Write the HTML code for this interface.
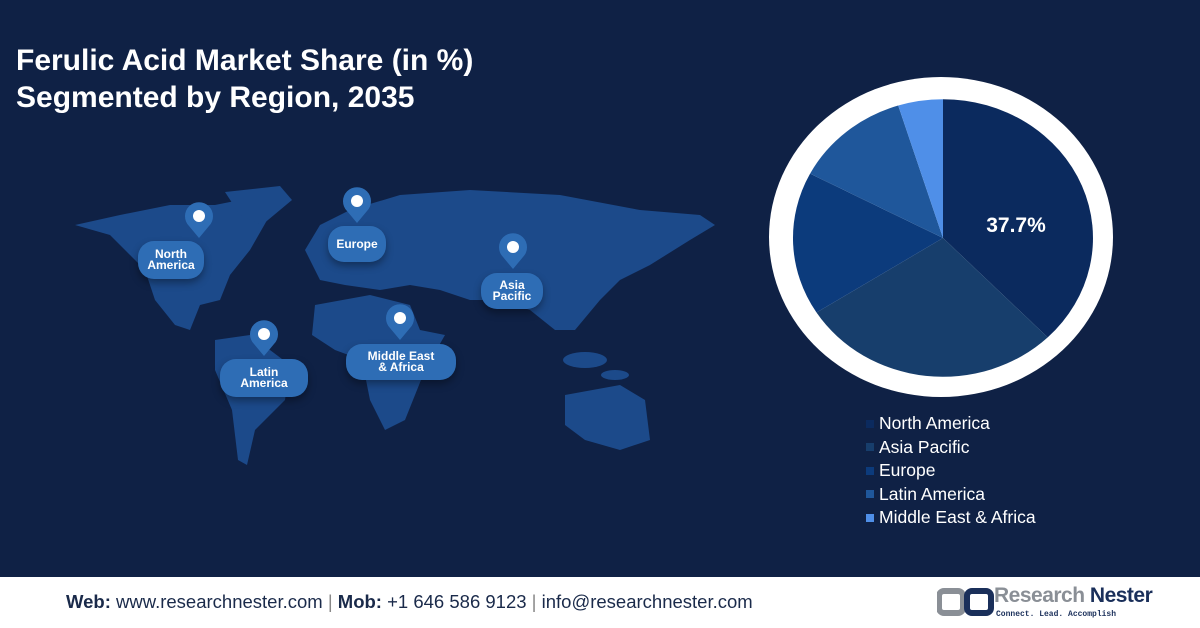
<!DOCTYPE html>
<html><head><style>
body{margin:0;width:1200px;height:628px;overflow:hidden;background:#0f2145;font-family:"Liberation Sans",sans-serif;position:relative}
.t{position:absolute;left:16px;color:#fff;font-weight:bold;font-size:30px;line-height:37px;top:42px}
.pill{position:absolute;background:#2e6db5;color:#fff;font-weight:bold;font-size:12px;line-height:11px;text-align:center;border-radius:16px;display:flex;align-items:center;justify-content:center;box-shadow:0 4px 8px rgba(0,0,0,.35)}
.leg{position:absolute;left:866px;top:412px;color:#fff;font-size:17.5px;line-height:23.5px}
.leg div{display:flex;align-items:center}
.leg span{display:inline-block;width:8px;height:8px;margin-right:5px}
.foot{position:absolute;left:0;top:577px;width:1200px;height:51px;background:#fff}
</style></head><body>
<div class="t">Ferulic Acid Market Share (in %)<br>Segmented by Region, 2035</div>
<svg width="1200" height="628" style="position:absolute;left:0;top:0">
<g fill="#1c4a8a">
<polygon points="75,225 120,215 170,205 215,205 250,198 270,215 250,250 230,275 220,300 200,305 190,330 175,325 155,300 145,270 110,235"/>
<polygon points="225,192 280,186 292,200 262,225 240,215"/>
<polygon points="215,340 250,335 290,365 285,400 255,430 247,465 238,460 232,410 215,370"/>
<polygon points="305,250 320,225 350,210 400,195 470,190 560,195 640,210 700,215 715,225 690,240 650,265 620,280 600,300 575,330 555,330 530,310 500,300 470,300 440,290 410,285 380,290 345,285 320,280"/>
<polygon points="315,305 370,295 410,305 420,330 445,335 425,370 405,420 385,430 370,400 362,360 335,350 312,335"/>
<polygon points="565,395 620,385 645,400 650,440 620,450 585,440 565,425"/>
<ellipse cx="585" cy="360" rx="22" ry="8"/><ellipse cx="615" cy="375" rx="14" ry="5"/>
</g>
<g fill="#2e6db5">
<path d="M199,238 l-10,-12 a14,14 0 1 1 20,0z"/>
<path d="M357,223 l-10,-12 a14,14 0 1 1 20,0z"/>
<path d="M513,269 l-10,-12 a14,14 0 1 1 20,0z"/>
<path d="M264,356 l-10,-12 a14,14 0 1 1 20,0z"/>
<path d="M400,340 l-10,-12 a14,14 0 1 1 20,0z"/>
</g>
<g fill="#fff"><circle cx="199" cy="216" r="6"/><circle cx="357" cy="201" r="6"/><circle cx="513" cy="247" r="6"/><circle cx="264" cy="334" r="6"/><circle cx="400" cy="318" r="6"/></g>
<ellipse cx="941" cy="237" rx="172" ry="160" fill="#fff"/>
<g transform="translate(943,238) scale(1,0.925)">
<path d="M0,0 L0,-150 A150,150 0 0 1 104.7,107.4Z" fill="#0b2a5e"/>
<path d="M0,0 L104.7,107.4 A150,150 0 0 1 -126.5,80.6Z" fill="#173e6c"/>
<path d="M0,0 L-126.5,80.6 A150,150 0 0 1 -132.9,-69.6Z" fill="#0c3b7c"/>
<path d="M0,0 L-132.9,-69.6 A150,150 0 0 1 -44.8,-143.2Z" fill="#1f579b"/>
<path d="M0,0 L-44.8,-143.2 A150,150 0 0 1 0,-150Z" fill="#4f8fe8"/>
</g>
<text x="1016" y="232" fill="#fff" font-size="21" font-weight="bold" text-anchor="middle" font-family="Liberation Sans">37.7%</text>
</svg>
<div class="pill" style="left:138px;top:241px;width:66px;height:38px">North<br>America</div>
<div class="pill" style="left:328px;top:226px;width:58px;height:36px">Europe</div>
<div class="pill" style="left:481px;top:273px;width:62px;height:36px">Asia<br>Pacific</div>
<div class="pill" style="left:220px;top:359px;width:88px;height:38px">Latin<br>America</div>
<div class="pill" style="left:346px;top:344px;width:110px;height:36px">Middle East<br>&amp; Africa</div>
<div class="leg">
<div><span style="background:#0b2a5e"></span>North America</div>
<div><span style="background:#173e6c"></span>Asia Pacific</div>
<div><span style="background:#0c3b7c"></span>Europe</div>
<div><span style="background:#1f579b"></span>Latin America</div>
<div><span style="background:#4f8fe8"></span>Middle East &amp; Africa</div>
</div>
<div class="foot">
<div style="position:absolute;left:66px;top:14px;font-size:18.5px;color:#1a2a4a"><b>Web:</b> www.researchnester.com <span style="color:#888">|</span> <b>Mob:</b> +1 646 586 9123 <span style="color:#888">|</span> info@researchnester.com</div>
<svg style="position:absolute;left:937px;top:10px" width="60" height="32"><rect x="2" y="4" width="24" height="22" rx="5" fill="none" stroke="#8a8f96" stroke-width="6"/><rect x="30" y="4" width="24" height="22" rx="5" fill="none" stroke="#1a2f5a" stroke-width="6"/></svg>
<div style="position:absolute;left:994px;top:7px;font-size:21px;font-weight:bold;color:#8a8f96;letter-spacing:-0.5px">Research <span style="color:#1a2f5a">Nester</span></div>
<div style="position:absolute;left:996px;top:33px;font-size:8px;color:#1a2f5a;font-family:'Liberation Mono',monospace;font-weight:bold">Connect. Lead. Accomplish</div>
</div>
</body></html>
